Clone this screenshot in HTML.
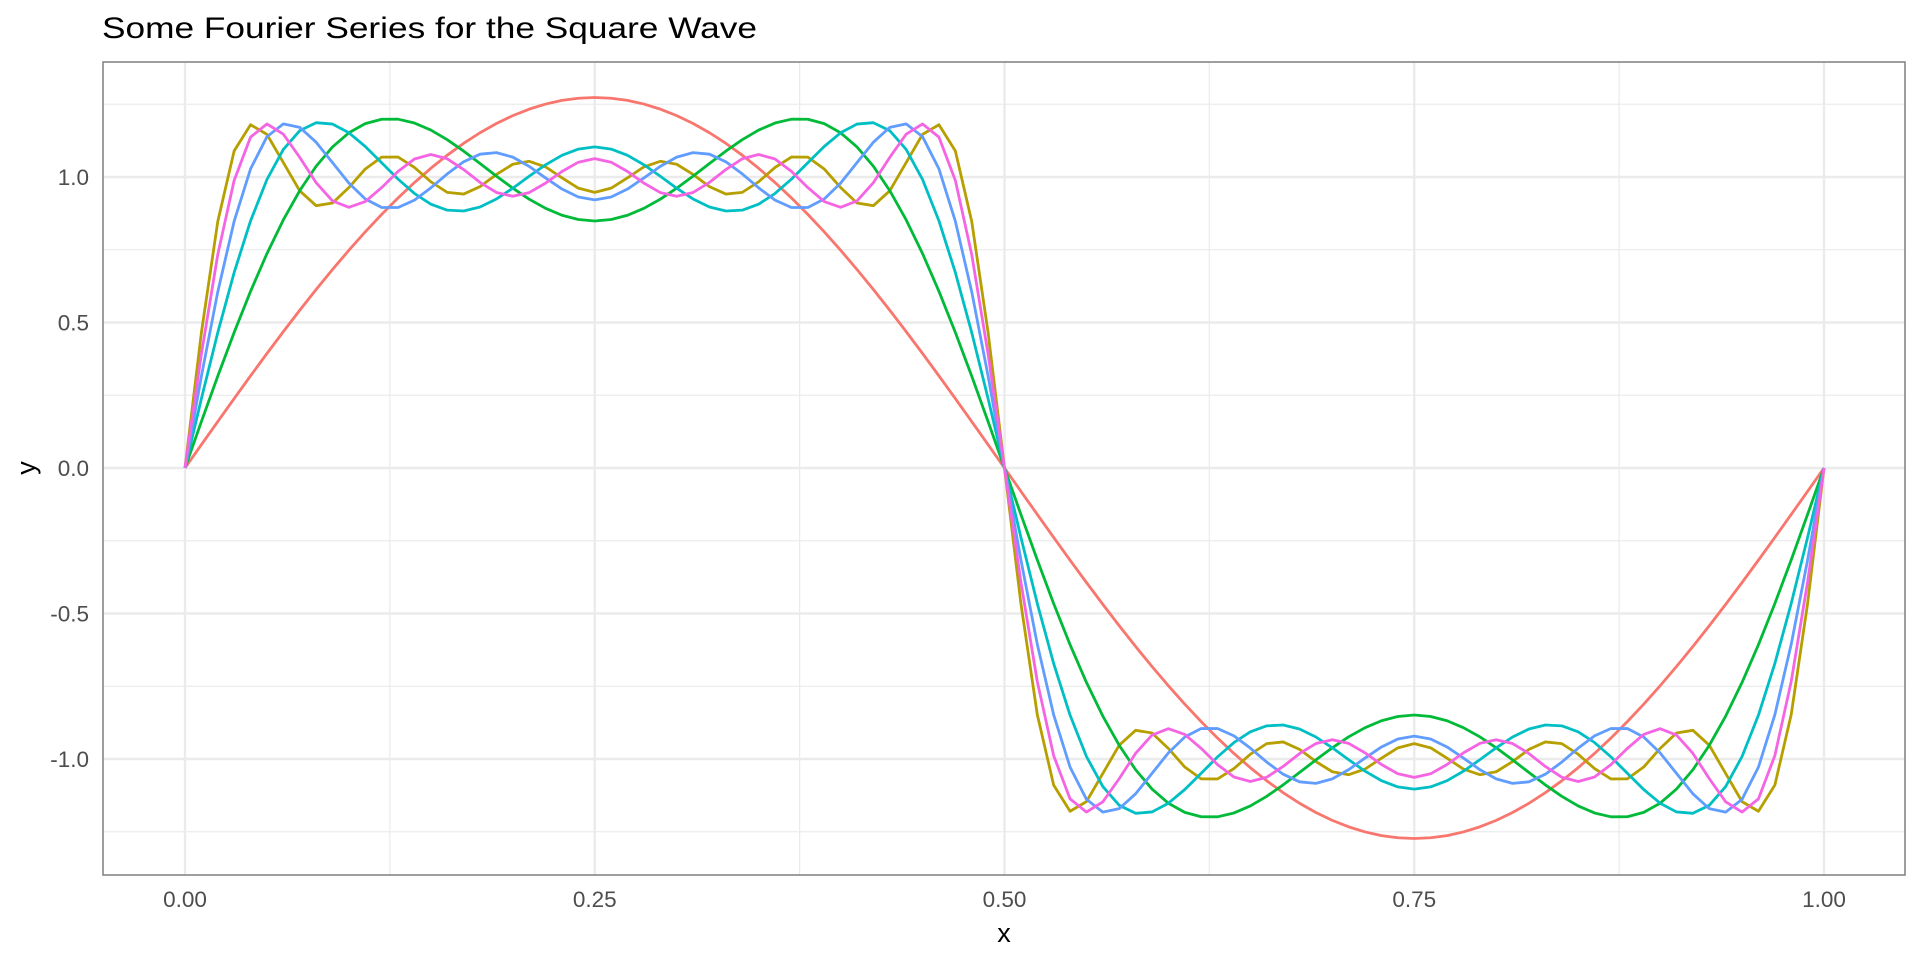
<!DOCTYPE html>
<html><head><meta charset="utf-8"><style>
html,body{margin:0;padding:0;background:#fff;}
svg{display:block;font-family:"Liberation Sans",Arial,sans-serif;}
</style></head><body>
<svg id="chart" width="1920" height="960" viewBox="0 0 1920 960" xmlns="http://www.w3.org/2000/svg">
<text x="102" y="38" font-size="30" fill="#000" textLength="655" lengthAdjust="spacingAndGlyphs">Some Fourier Series for the Square Wave</text>
<g id="grid"></g>
<g id="lines"></g>
<rect x="103" y="62" width="1802" height="813" fill="none" stroke="#7f7f7f" stroke-width="1.5"/>
<g id="ticks"></g>
<text x="1004" y="942" font-size="27" text-anchor="middle" fill="#000">x</text>
<text x="0" y="0" font-size="27" text-anchor="middle" fill="#000" transform="translate(35,468) rotate(-90)">y</text>
</svg>
<script>
// Data: Fourier sine coefficients of each partial sum (series label = highest harmonic)
const seriesNames = ["1","11","3","5","7","9"];
const seriesColors = ["#F8766D","#B79F00","#00BA38","#00BFC4","#619CFF","#F564E3"];
const coef1  = [1.2732];
const coef11 = [1.2732,0.4244,0.2546,0.1819,0.1415,0.1157];
const coef3  = [1.2732,0.4244];
const coef5  = [1.2732,0.4244,0.2546];
const coef7  = [1.2732,0.4244,0.2546,0.1819];
const coef9  = [1.2732,0.4244,0.2546,0.1819,0.1415];
const harmonics = [1,3,5,7,9,11];
const xTicks = [0,0.25,0.5,0.75,1];
const xTickLabels = ["0.00","0.25","0.50","0.75","1.00"];
const yTicks = [-1,-0.5,0,0.5,1];
const yTickLabels = ["-1.0","-0.5","0.0","0.5","1.0"];
const sampleCount = 101;

const NS="http://www.w3.org/2000/svg";
const X0=185,X1=1824,Y0=468,YU=291,PL=103,PR=1905,PT=62,PB=875;
function sx(v){return X0+(X1-X0)*v;}
function sy(v){return Y0-YU*v;}
const grid=document.getElementById('grid'),lines=document.getElementById('lines'),ticks=document.getElementById('ticks');
function ln(p,x1,y1,x2,y2,w){const l=document.createElementNS(NS,'line');l.setAttribute('x1',x1);l.setAttribute('y1',y1);l.setAttribute('x2',x2);l.setAttribute('y2',y2);l.setAttribute('stroke','#ebebeb');l.setAttribute('stroke-width',w);p.appendChild(l);return l;}
for(let i=-1;i<=4;i++){const v=(i+0.5)*0.25;const px=sx(v);if(px>PL&&px<PR){const l=ln(grid,px,PT,px,PB,1.2);

}}
for(let i=-6;i<=6;i++){const v=i*0.5+0.25;const py=sy(v);if(py>PT&&py<PB){const l=ln(grid,PL,py,PR,py,1.2);

}}
xTicks.forEach((v,i)=>{const l=ln(grid,sx(v),PT,sx(v),PB,2.4);


const t=document.createElementNS(NS,'text');t.setAttribute('x',sx(v));t.setAttribute('y',907);t.setAttribute('font-size','22.5');t.setAttribute('fill','#4d4d4d');t.setAttribute('text-anchor','middle');t.textContent=xTickLabels[i];


ticks.appendChild(t);});
yTicks.forEach((v,i)=>{const l=ln(grid,PL,sy(v),PR,sy(v),2.4);


const t=document.createElementNS(NS,'text');t.setAttribute('x',89);t.setAttribute('y',sy(v)+8);t.setAttribute('font-size','22.5');t.setAttribute('fill','#4d4d4d');t.setAttribute('text-anchor','end');t.textContent=yTickLabels[i];


ticks.appendChild(t);});
const allCoefs=[coef1,coef11,coef3,coef5,coef7,coef9];
allCoefs.forEach((c,s)=>{
  const pts=[];
  for(let i=0;i<sampleCount;i++){const x=i/(sampleCount-1);let y=0;c.forEach((b,k)=>{y+=b*Math.sin(2*Math.PI*harmonics[k]*x);});pts.push(sx(x).toFixed(2)+','+sy(y).toFixed(2));}
  const pl=document.createElementNS(NS,'polyline');
  pl.setAttribute('points',pts.join(' '));pl.setAttribute('fill','none');pl.setAttribute('stroke',seriesColors[s]);pl.setAttribute('stroke-width','2.8');pl.setAttribute('stroke-linejoin','round');
  
  
  lines.appendChild(pl);
});
</script>
</body></html>
